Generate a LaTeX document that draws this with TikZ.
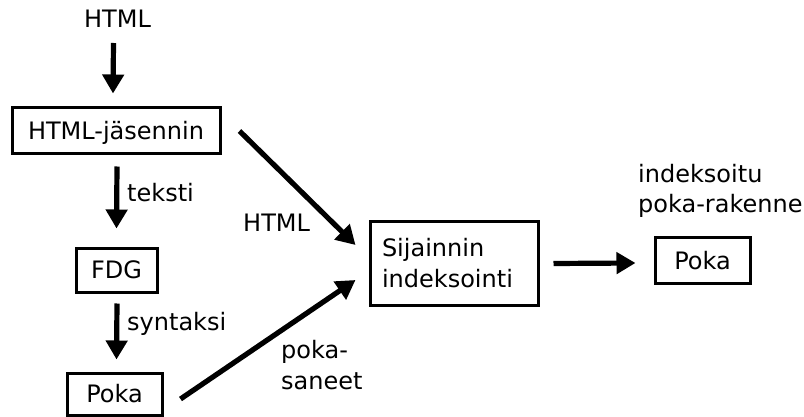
\documentclass[tikz,border=0pt]{standalone}
\usepackage{fontspec}
\setmainfont{DejaVu Sans}
\usetikzlibrary{arrows.meta,calc}

\tikzset{
  box/.style={draw, line width=3pt, inner sep=0pt, text height=17.5pt, text depth=0pt},
  arr/.style={line width=5.2pt, -{Triangle[length=19pt,width=21pt]}},
  lbl/.style={inner sep=0pt, anchor=base west},
}

\begin{document}
\begin{tikzpicture}[x=1pt, y=-1pt, font=\fontsize{24}{31}\selectfont]
  \useasboundingbox (0,0) rectangle (804,417);

  % input and the parsing chain on the left
  \node[inner sep=0pt, anchor=base] (src) at (117.5,28) {HTML};
  \node[box, minimum width=208pt, minimum height=46pt] (parser) at (116,131) {HTML-jäsennin};
  \node[box, minimum width=81pt, minimum height=44pt] (fdg) at (116.5,270) {FDG};
  \node[box, minimum width=95pt, minimum height=42pt] (poka) at (114.5,394) {Poka};

  % indexing stage and its result
  \node[draw, line width=3pt, inner xsep=12pt, inner ysep=0pt, text width=144pt,
        align=left, minimum height=83pt] (index) at (454,263.5) {Sijainnin\\indeksointi};
  \node[box, minimum width=95pt, minimum height=45pt] (result) at (702.5,260.5) {Poka};
  \node[lbl, align=left] (resultlbl) at (638,213) {indeksoitu\\poka-rakenne};

  % connectors
  \draw[arr] ([xshift=-4pt,yshift=-15pt]src.base) -- ([xshift=-3pt,yshift=13pt]parser.north);
  \draw[arr] ([xshift=1pt,yshift=-11pt]parser.south) -- ([yshift=18pt]fdg.north);
  \draw[arr] ([xshift=0.5pt,yshift=-10pt]fdg.south) -- ([xshift=2pt,yshift=12pt]poka.north);
  \draw[arr] ($(parser.east)+(18,0)$) -- ($(index.west)+(-13,-18.5)$);
  \draw[arr] ($(poka.east)+(17,5)$) -- ($(index.west)+(-13,16.5)$);
  \draw[arr] ($(index.east)+(14,0)$) -- ($(result.west)+(-18,2.5)$);

  % edge labels
  \node[lbl] (lteksti) at (127,201) {teksti};
  \node[lbl] (lsyntaksi) at (127,330) {syntaksi};
  \node[lbl] (lhtml) at (243,232) {HTML};
  \node[lbl, align=left] (lsaneet) at (281,389) {poka-\\saneet};
\end{tikzpicture}
\end{document}
